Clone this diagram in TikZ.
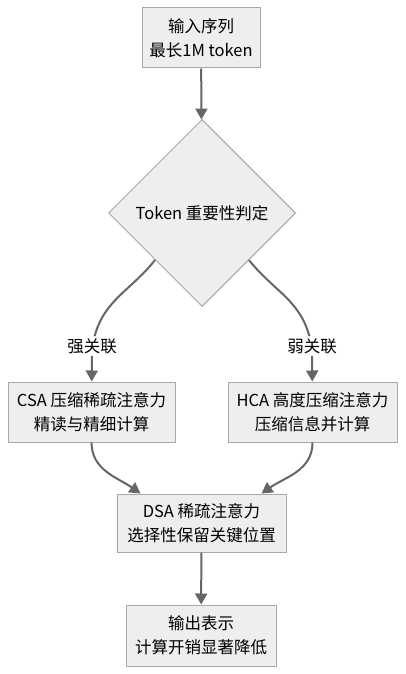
\documentclass[tikz,border=0pt]{standalone}
\usepackage{fontspec}
\setmainfont{Noto Sans CJK SC}
\usetikzlibrary{arrows.meta, shapes.geometric}
\definecolor{boxfill}{HTML}{EEEEEE}
\definecolor{boxline}{HTML}{A8A8A8}
\definecolor{edgecol}{HTML}{666666}
\tikzset{box/.style = {shape=rectangle,draw=boxline,fill=boxfill,line width=1pt,align=center,inner sep=0pt,minimum height=60pt,font=\fontsize{16.5}{24}\selectfont,text=black}}
\tikzset{decision/.style = {shape=diamond,draw=boxline,fill=boxfill,line width=1pt,inner sep=0pt,minimum size=187pt,aspect=1,font=\fontsize{16.5}{24}\selectfont,text=black}}
\tikzset{lbl/.style = {fill=white,inner sep=2pt,font=\fontsize{16.5}{20}\selectfont,text=black}}
\tikzset{edge/.style = {->,> = {Triangle[length=11pt,width=12pt]},draw=edgecol,line width=2pt}}

\begin{document}
\begin{tikzpicture}[x=1pt,y=1pt]
                \useasboundingbox (0,0) rectangle (405,-674);
                \node[box,minimum width=118pt] (input) at (201,-38) {输入序列\\最长1M token};
                \node[decision] (judge) at (202,-213) {Token 重要性判定};
                \draw[edge] (input) -- (judge);
                \node[box,minimum width=167pt] (csa) at (91.5,-412) {CSA 压缩稀疏注意力\\精读与精细计算};
                \node[box,minimum width=169pt] (hca) at (312.5,-412) {HCA 高度压缩注意力\\压缩信息并计算};
                \node[lbl] (strong) at (92,-346) {强关联};
                \node[lbl] (weak) at (312,-346) {弱关联};
                \draw[draw=edgecol,line width=2pt] (judge.south west) to[out=232,in=75] (strong);
                \draw[edge] (strong) -- (csa);
                \draw[draw=edgecol,line width=2pt] (judge.south east) to[out=-52,in=105] (weak);
                \draw[edge] (weak) -- (hca);
                \node[box,minimum width=169pt,minimum height=58pt] (dsa) at (201.5,-523) {DSA 稀疏注意力\\选择性保留关键位置};
                \draw[edge] (csa) to[out=270,in=145] ([xshift=24pt]dsa.north west);
                \draw[edge] (hca) to[out=270,in=35] ([xshift=-25pt]dsa.north east);
                \node[box,minimum width=150pt,minimum height=61pt] (result) at (201,-635.5) {输出表示\\计算开销显著降低};
                \draw[edge] (dsa) -- (result);
            \end{tikzpicture}
\end{document}
